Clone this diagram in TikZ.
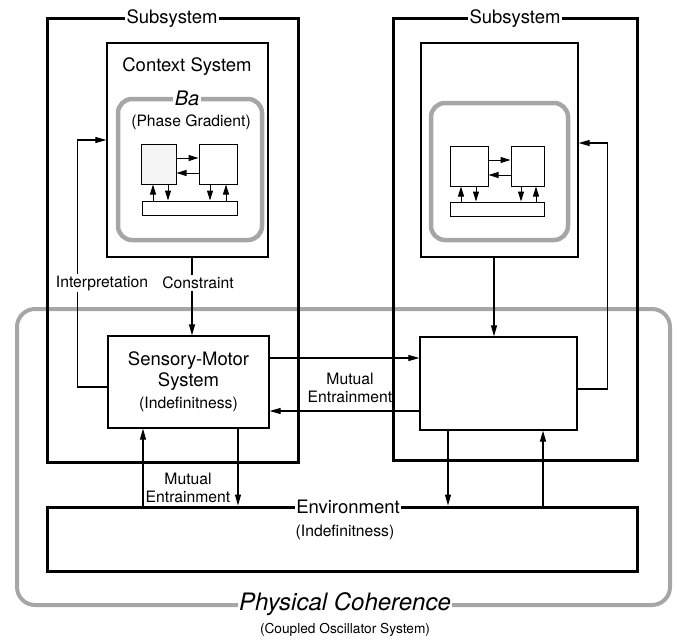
\documentclass[tikz,border=0pt]{standalone}
\usepackage{fontspec}
\setmainfont{TeX Gyre Heros}
\usetikzlibrary{arrows.meta,positioning}
\tikzstyle{subsystem} = [rectangle, draw=black, line width=3pt]
\tikzstyle{process} = [rectangle, draw=black, line width=1.3pt, text centered]
\tikzstyle{unit} = [rectangle, draw=black, line width=1pt, inner sep=0pt]
\tikzstyle{field} = [rectangle, rounded corners=14pt, draw=gray!70, line width=4.5pt]
\tikzstyle{arrow} = [line width=1.1pt, -{Triangle[length=11pt,width=6pt]}]
\tikzstyle{smallarrow} = [line width=1pt, -{Triangle[length=10pt,width=6pt]}]
\tikzstyle{bigtext} = [font=\fontsize{18.5}{21}\selectfont]
\tikzstyle{smalltext} = [font=\fontsize{15.7}{18}\selectfont]
\tikzstyle{tag} = [fill=white, inner sep=1.5pt]

\begin{document}
\begin{tikzpicture}[x=1pt, y=-1pt]
\useasboundingbox (0,0) rectangle (679,642);

% physical coherence
\node (phys) [field, rounded corners=18pt, line width=4pt, minimum width=653pt, minimum height=296pt] at (343.5,457) {};

% subsystems
\node (leftsub) [subsystem, minimum width=251pt, minimum height=443pt] at (172.5,240.5) {};
\node (rightsub) [subsystem, minimum width=244pt, minimum height=441pt] at (515,239.5) {};
\node [tag, bigtext] at (172,19) {Subsystem};
\node [tag, bigtext] at (515,19) {Subsystem};

% context systems
\node (ctxL) [process, minimum width=161pt, minimum height=214pt] at (187.5,150) {};
\node (ctxR) [process, minimum width=157pt, minimum height=214pt] at (499.5,150) {};
\node [bigtext] at (187,67) {Context System};

% ba
\node (baL) [field, minimum width=144pt, minimum height=141pt] at (190,169.5) {};
\node (baR) [field, minimum width=137pt, minimum height=137pt] at (499.5,171.5) {};
\node [tag, font=\fontsize{20}{22}\selectfont\itshape] at (187,98) {Ba};
\node [smalltext] at (191,122) {(Phase Gradient)};

% units inside ba (left)
\node (unitLa) [unit, fill=gray!8, minimum width=35pt, minimum height=40pt] at (158.5,164) {};
\node (unitLb) [unit, minimum width=38pt, minimum height=40pt] at (218,164) {};
\node (barL) [unit, minimum width=95pt, minimum height=14pt] at (189.5,208) {};
\draw [smallarrow] ([yshift=6pt]unitLa.east) -- ([yshift=6pt]unitLa.east -| unitLb.west);
\draw [smallarrow] ([yshift=-9pt]unitLb.west) -- ([yshift=-9pt]unitLb.west -| unitLa.east);
\draw [smallarrow] ([xshift=-5.5pt]unitLa.south |- barL.north) -- ([xshift=-5.5pt]unitLa.south);
\draw [smallarrow] ([xshift=9.5pt]unitLa.south) -- ([xshift=9.5pt]unitLa.south |- barL.north);
\draw [smallarrow] ([xshift=-8pt]unitLb.south) -- ([xshift=-8pt]unitLb.south |- barL.north);
\draw [smallarrow] ([xshift=8pt]unitLb.south |- barL.north) -- ([xshift=8pt]unitLb.south);

% units inside ba (right)
\node (unitRa) [unit, minimum width=38pt, minimum height=40pt] at (469,166) {};
\node (unitRb) [unit, minimum width=33pt, minimum height=40pt] at (527.5,166) {};
\node (barR) [unit, minimum width=94pt, minimum height=14pt] at (497,209) {};
\draw [smallarrow] ([yshift=6pt]unitRa.east) -- ([yshift=6pt]unitRa.east -| unitRb.west);
\draw [smallarrow] ([yshift=-9pt]unitRb.west) -- ([yshift=-9pt]unitRb.west -| unitRa.east);
\draw [smallarrow] ([xshift=-8pt]unitRa.south |- barR.north) -- ([xshift=-8pt]unitRa.south);
\draw [smallarrow] ([xshift=7pt]unitRa.south) -- ([xshift=7pt]unitRa.south |- barR.north);
\draw [smallarrow] ([xshift=-6.5pt]unitRb.south) -- ([xshift=-6.5pt]unitRb.south |- barR.north);
\draw [smallarrow] ([xshift=8.5pt]unitRb.south |- barR.north) -- ([xshift=8.5pt]unitRb.south);

% sensory-motor systems
\node (smL) [process, bigtext, align=center, minimum width=161pt, minimum height=92pt] at (188.5,382)
  {Sensory-Motor\\System\\[1pt]{\fontsize{15.7}{18}\selectfont (Indefinitness)}};
\node (smR) [process, minimum width=157pt, minimum height=93pt] at (498.5,383.5) {};

% environment
\node (env) [subsystem, minimum width=590pt, minimum height=64pt] at (342,539) {};
\node [tag, bigtext] at (348,507) {Environment};
\node [smalltext] at (345,532) {(Indefinitness)};

% connectors
\draw [arrow] ([xshift=3.5pt]smL.north |- ctxL.south) -- ([xshift=3.5pt]smL.north);
\draw [arrow] ([yshift=-5pt]smL.west) -- ++(-30,0) |- ([yshift=10pt]ctxL.west);
\node [tag, smalltext] at (102,283) {Interpretation};
\node [tag, smalltext] at (198,283) {Constraint};
\draw [arrow] ([xshift=-4.5pt]smR.north |- ctxR.south) -- ([xshift=-4.5pt]smR.north);
\draw [arrow] ([yshift=-5.5pt]smR.east) -- ++(30,0) |- ([yshift=7pt]ctxR.east);
\draw [arrow] ([yshift=24pt]smL.east) -- ([yshift=24pt]smL.east -| smR.west);
\draw [arrow] ([yshift=-29pt]smL.east -| smR.west) -- ([yshift=-29pt]smL.east);
\node [smalltext, align=center] at (350,388) {Mutual\\Entrainment};
\draw [arrow] ([xshift=-45.5pt]smL.south |- env.north) -- ([xshift=-45.5pt]smL.south);
\draw [arrow] ([xshift=49.5pt]smL.south) -- ([xshift=49.5pt]smL.south |- env.north);
\node [smalltext, align=center] at (188,488) {Mutual\\Entrainment};
\draw [arrow] ([xshift=-50.5pt]smR.south) -- ([xshift=-50.5pt]smR.south |- env.north);
\draw [arrow] ([xshift=44.5pt]smR.south |- env.north) -- ([xshift=44.5pt]smR.south);

% labels of physical coherence
\node [tag, font=\fontsize{24}{26}\selectfont\itshape] at (345,604) {Physical Coherence};
\node [font=\fontsize{13.7}{16}\selectfont] at (345,630) {(Coupled Oscillator System)};
\end{tikzpicture}
\end{document}
